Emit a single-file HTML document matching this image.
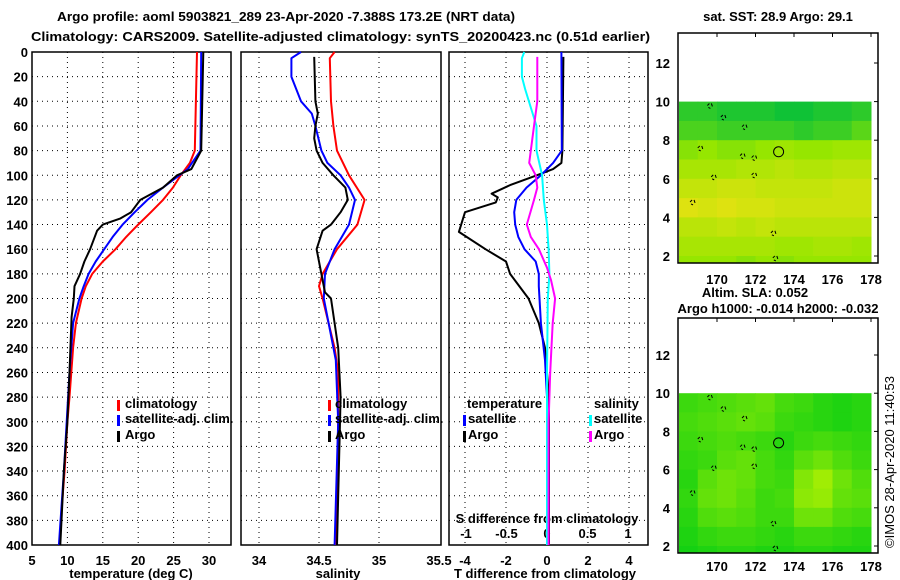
<!DOCTYPE html>
<html><head><meta charset="utf-8"><style>
body{margin:0;background:#fff}
svg{display:block;font-family:"Liberation Sans",Arial,sans-serif;font-weight:bold}
text{font-size:13px}
</style></head><body>
<svg id="c" width="900" height="580" viewBox="0 0 900 580" xmlns="http://www.w3.org/2000/svg">
<text x="57" y="21" textLength="458" lengthAdjust="spacingAndGlyphs" font-size="14.5">Argo profile: aoml 5903821_289 23-Apr-2020 -7.388S 173.2E (NRT data)</text>
<text x="31" y="41" textLength="619" lengthAdjust="spacingAndGlyphs" font-size="14.5">Climatology: CARS2009. Satellite-adjusted climatology: synTS_20200423.nc (0.51d earlier)</text>
<text x="778" y="21" text-anchor="middle" font-size="12">sat. SST: 28.9 Argo: 29.1</text>
<text x="755" y="297" text-anchor="middle" font-size="12">Altim. SLA: 0.052</text>
<text x="778" y="313" text-anchor="middle" font-size="12">Argo h1000: -0.014 h2000: -0.032</text>
<text transform="translate(894,548) rotate(-90)" font-size="12" font-weight="normal">©IMOS 28-Apr-2020 11:40:53</text>
</svg>
<script>
// ---- data ----
const depthTicks=[0,20,40,60,80,100,120,140,160,180,200,220,240,260,280,300,320,340,360,380,400];
const tempTicks=[5,10,15,20,25,30];
const salTicks=[34,34.5,35,35.5];
const tdiffTicks=[-4,-2,0,2,4];
const sdiffTicks=[-1,-0.5,0,0.5,1];
const tempClimDepth=[0,80,90,100,110,120,130,140,150,160,170,180,190,200,220,240,280,300,340,370,400];
const tempClim=[28.3,28.0,27.3,26.0,24.9,23.5,21.8,20.0,18.3,16.8,15.0,13.5,12.6,12.0,11.2,10.8,10.3,10.0,9.6,9.2,8.9];
const tempSatDepth=[0,80,95,100,110,120,130,140,150,160,170,180,190,200,220,260,300,340,400];
const tempSat=[28.9,28.8,27.0,25.8,23.5,21.3,19.5,17.8,16.4,15.2,14.0,13.0,12.3,11.7,10.8,10.3,9.9,9.5,8.8];
const tempArgoDepth=[0,80,95,100,110,120,130,135,140,145,160,170,180,190,200,215,260,300,340,400];
const tempArgo=[29.2,28.9,27.5,25.5,23.5,20.3,19.0,17.5,15.0,14.2,13.2,12.4,11.8,11.0,10.9,10.6,10.3,10.0,9.5,9.0];
const salClimDepth=[0,5,40,60,80,100,120,140,160,180,190,200,220,240,260,300,400];
const salClim=[34.63,34.59,34.6,34.62,34.65,34.75,34.88,34.82,34.65,34.53,34.5,34.53,34.58,34.63,34.66,34.66,34.64];
const salSatDepth=[0,5,20,40,50,60,80,90,100,110,120,140,160,180,200,220,250,300,400];
const salSat=[34.35,34.27,34.27,34.35,34.44,34.47,34.52,34.57,34.68,34.75,34.8,34.75,34.63,34.55,34.54,34.58,34.64,34.66,34.63];
const salArgoDepth=[4,40,50,60,70,80,90,100,110,120,130,140,145,160,180,195,200,220,240,280,400];
const salArgo=[34.46,34.47,34.49,34.47,34.46,34.48,34.53,34.62,34.72,34.74,34.68,34.6,34.53,34.48,34.52,34.55,34.6,34.63,34.66,34.68,34.65];
const tdSatDepth=[0,80,90,100,110,120,130,140,150,160,170,180,190,220,250,280,400];
const tdSat=[0.7,0.72,0.3,-0.3,-1.0,-1.5,-1.6,-1.55,-1.4,-1.1,-0.55,-0.4,-0.4,-0.3,-0.1,0,0];
const tdArgoDepth=[4,80,90,95,100,108,115,118,122,130,146,160,170,180,200,220,240,280,400];
const tdArgo=[0.8,0.75,0.7,0.3,-0.5,-1.8,-2.7,-2.4,-2.5,-4.0,-4.3,-3.0,-2.0,-1.8,-0.9,-0.4,-0.1,0.1,0.1];
const sdSatDepth=[0,5,20,30,45,60,80,100,120,140,160,180,200,260,400];
const sdSat=[-0.28,-0.31,-0.31,-0.27,-0.2,-0.13,-0.13,-0.06,-0.04,0.0,0.02,0.03,0.01,0.0,0.0];
const sdArgoDepth=[4,20,40,60,80,90,100,110,120,140,150,160,175,185,200,220,260,300,400];
const sdArgo=[-0.12,-0.12,-0.12,-0.16,-0.2,-0.22,-0.14,-0.12,-0.16,-0.25,-0.2,-0.1,0.0,0.05,0.1,0.07,0.04,0.02,0.02];
const latTicks=[2,4,6,8,10,12];
const lonTicks=[170,172,174,176,178];
const sstGrid=[
[0.15,0.15,0.1,0.1,0.1,0.05,0.05,0.1,0.1,0.15],
[0.25,0.25,0.2,0.2,0.2,0.2,0.15,0.2,0.2,0.3],
[0.45,0.5,0.45,0.45,0.5,0.55,0.5,0.5,0.55,0.55],
[0.6,0.6,0.6,0.65,0.65,0.7,0.65,0.65,0.7,0.7],
[0.75,0.75,0.8,0.8,0.75,0.75,0.75,0.75,0.8,0.8],
[0.9,0.85,0.9,0.85,0.85,0.8,0.8,0.8,0.8,0.8],
[0.7,0.7,0.75,0.7,0.75,0.7,0.7,0.7,0.7,0.7],
[0.6,0.6,0.6,0.6,0.6,0.55,0.55,0.6,0.6,0.55],
[0.5,0.5,0.5,0.45,0.5,0.45,0.5,0.5,0.5,0.5]];
const slaGrid=[
[0.3,0.35,0.4,0.45,0.5,0.35,0.3,0.2,0.15,0.2],
[0.35,0.4,0.45,0.5,0.45,0.3,0.25,0.2,0.15,0.2],
[0.3,0.35,0.4,0.35,0.3,0.2,0.3,0.35,0.3,0.25],
[0.25,0.3,0.45,0.5,0.35,0.25,0.45,0.55,0.4,0.3],
[0.2,0.45,0.55,0.5,0.35,0.3,0.65,0.8,0.55,0.4],
[0.25,0.5,0.55,0.45,0.3,0.35,0.7,0.75,0.5,0.45],
[0.2,0.4,0.45,0.4,0.3,0.3,0.55,0.55,0.4,0.35],
[0.15,0.25,0.3,0.3,0.25,0.2,0.3,0.3,0.25,0.2],
[0.1,0.15,0.2,0.2,0.15,0.15,0.2,0.2,0.15,0.15]];
const argoLon=173.2, argoLat=7.4;
// ---- drawing ----
const NS="http://www.w3.org/2000/svg";
const svg=document.getElementById('c');
function el(t,a,p){const e=document.createElementNS(NS,t);for(const k in a)e.setAttribute(k,a[k]);(p||svg).appendChild(e);return e;}
const Y0=52,Y1=545;
const yD=d=>Y0+d*(Y1-Y0)/400;
function mk(x0,x1,vmin,vmax){return v=>x0+(v-vmin)*(x1-x0)/(vmax-vmin);}
const p1={x0:32,x1:231},p2={x0:241,x1:441},p3={x0:449,x1:648};
const xT=mk(32,209,5,30), xS=mk(259,379,34,35), xTD=mk(547,588,0,2), xSD=mk(547,628,0,1);
function frame(p,name){
  for(const d of depthTicks){if(d===0||d===400)continue;
    const l=el('line',{x1:p.x0,x2:p.x1,y1:yD(d),y2:yD(d),stroke:'#000','stroke-width':1,'stroke-dasharray':'1,4'});
    }
  const r=el('rect',{x:p.x0,y:Y0,width:p.x1-p.x0,height:Y1-Y0,fill:'none',stroke:'#000','stroke-width':1.5});
  
}
function vgrid(xs,f){for(const v of xs){const x=f(v);
  const l=el('line',{x1:x,x2:x,y1:Y0,y2:Y1,stroke:'#000','stroke-width':1,'stroke-dasharray':'1,4'});
  }}
function xlabels(xs,f,y,name){for(const v of xs){const t=el('text',{x:f(v),y:y,'text-anchor':'middle','font-size':12});
  t.textContent=String(v);
  }}
function series(ds,vs,f,color,name,w){
  const pts=ds.map((d,i)=>f(vs[i]).toFixed(1)+','+yD(d).toFixed(1)).join(' ');
  const pl=el('polyline',{points:pts,fill:'none',stroke:color,'stroke-width':w||2,'stroke-linejoin':'round'});
  }
function txt(x,y,s,name,o){const t=el('text',Object.assign({x:x,y:y,'font-size':12},o||{}));t.textContent=s;
  return t;}
function legMark(x,y,c,name){const r=el('rect',{x:x,y:y-9,width:3,height:11,fill:c});
  }
// panel 1
frame(p1,'temperature-panel');
vgrid(tempTicks.filter(v=>v>5),xT);
for(const d of depthTicks){txt(28,yD(d)+5,String(d),'depth-tick-label',{'text-anchor':'end'});}
xlabels(tempTicks,xT,565,'temperature-tick-label');
txt(131,578,'temperature (deg C)','temperature-axis-title',{'text-anchor':'middle'});
series(tempClimDepth,tempClim,xT,'#f00','temperature-climatology-line');
series(tempSatDepth,tempSat,xT,'#00f','temperature-satellite-line');
series(tempArgoDepth,tempArgo,xT,'#000','temperature-argo-line');
legMark(117,409,'#f00','legend-climatology-marker');txt(125,408,'climatology','legend-climatology');
legMark(117,424,'#00f','legend-satellite-marker');txt(125,423,'satellite-adj. clim.','legend-satellite-adj');
legMark(117,440,'#000','legend-argo-marker');txt(125,439,'Argo','legend-argo');
// panel 2
frame(p2,'salinity-panel');
vgrid(salTicks.filter(v=>v<35.5),xS);
xlabels(salTicks,xS,565,'salinity-tick-label');
txt(338,578,'salinity','salinity-axis-title',{'text-anchor':'middle'});
series(salClimDepth,salClim,xS,'#f00','salinity-climatology-line');
series(salSatDepth,salSat,xS,'#00f','salinity-satellite-line');
series(salArgoDepth,salArgo,xS,'#000','salinity-argo-line');
legMark(328,409,'#f00','legend2-climatology-marker');txt(335,408,'climatology','legend2-climatology');
legMark(328,424,'#00f','legend2-satellite-marker');txt(335,423,'satellite-adj. clim.','legend2-satellite-adj');
legMark(328,440,'#000','legend2-argo-marker');txt(335,439,'Argo','legend2-argo');
// panel 3
frame(p3,'difference-panel');
vgrid(tdiffTicks,xTD);
xlabels(tdiffTicks,xTD,565,'tdiff-tick-label');
xlabels(sdiffTicks,v=>xSD(v),538,'sdiff-tick-label');
txt(547,523,'S difference from climatology','sdiff-axis-title',{'text-anchor':'middle'});
txt(545,578,'T difference from climatology','tdiff-axis-title',{'text-anchor':'middle'});
series(tdArgoDepth,tdArgo,xTD,'#000','tdiff-argo-line');
series(tdSatDepth,tdSat,xTD,'#00f','tdiff-satellite-line');
series(sdSatDepth,sdSat,xSD,'#0ff','sdiff-satellite-line');
series(sdArgoDepth,sdArgo,xSD,'#f0f','sdiff-argo-line');
txt(467,408,'temperature','legend3-temperature-header');
txt(594,408,'salinity','legend3-salinity-header');
legMark(463,424,'#00f','legend3-tsat-marker');txt(468,423,'satellite','legend3-tsat');
legMark(463,440,'#000','legend3-targo-marker');txt(468,439,'Argo','legend3-targo');
legMark(589,424,'#0ff','legend3-ssat-marker');txt(594,423,'satellite','legend3-ssat');
legMark(589,440,'#f0f','legend3-sargo-marker');txt(594,439,'Argo','legend3-sargo');
// maps
function lerp(a,b,t){return a.map((v,i)=>Math.round(v+(b[i]-v)*t));}
function sstColor(v){const g=[0,190,60],m=[150,230,0],y=[240,225,20];
  const c=v<0.5?lerp(g,m,v/0.5):lerp(m,y,(v-0.5)/0.5);return 'rgb('+c.join(',')+')';}
function slaColor(v){const c=lerp([0,205,20],[200,245,0],v);return 'rgb('+c.join(',')+')';}
function map(top,bot,grid,colf,name,lonLabY){
  const X0=678,X1=878,lonx=mk(717,871,170,178);
  const laty=mk(top.y2,top.y12,2,12);
  const yTop=bot.top,yBot=bot.bottom;
  el('rect',{x:X0,y:yTop,width:X1-X0,height:yBot-yTop,fill:'#fff'});
  grid.forEach((row,i)=>row.forEach((v,j)=>{
    const y1=laty(10-i),y2=Math.min(laty(9-i),yBot);
    const x1=lonx(168+j),x2=Math.min(lonx(169+j),X1);
    const c=el('rect',{x:Math.max(x1,X0+1),y:y1,width:x2-Math.max(x1,X0+1)+0.5,height:y2-y1+0.5,fill:colf(v)});
    }));
  const f=el('rect',{x:X0,y:yTop,width:X1-X0,height:yBot-yTop,fill:'none',stroke:'#000','stroke-width':1.5});
  
  for(const la of latTicks){txt(670,laty(la)+5,String(la),name+'-lat-label',{'text-anchor':'end'});
    el('line',{x1:X1,x2:X1-4,y1:laty(la),y2:laty(la),stroke:'#000'});}
  for(const lo of lonTicks){txt(lonx(lo),lonLabY,String(lo),name+'-lon-label',{'text-anchor':'middle'});
    el('line',{x1:lonx(lo),x2:lonx(lo),y1:yTop,y2:yTop+4,stroke:'#000'});}
  [[169.5,9.8],[170.2,9.2],[171.3,8.7],[169,7.6],[171.2,7.2],[171.8,7.1],[169.7,6.1],[171.8,6.2],[172.8,3.2],[172.9,1.9],[168.6,4.8]].forEach(p=>{
    const d=el('path',{d:'M'+lonx(p[0])+' '+laty(p[1])+' l2 -2 m2 0 l1 3 m-2 2 l-2 -1',stroke:'#000',fill:'none','stroke-width':1});
    });
  const ci=el('circle',{cx:lonx(argoLon),cy:laty(argoLat),r:5,fill:'none',stroke:'#000','stroke-width':1});
  
}
map({y2:256,y12:63},{top:33,bottom:263},sstGrid,sstColor,'sst-map',284);
map({y2:546,y12:355},{top:318,bottom:553},slaGrid,slaColor,'sla-map',571);
</script>
</body></html>
